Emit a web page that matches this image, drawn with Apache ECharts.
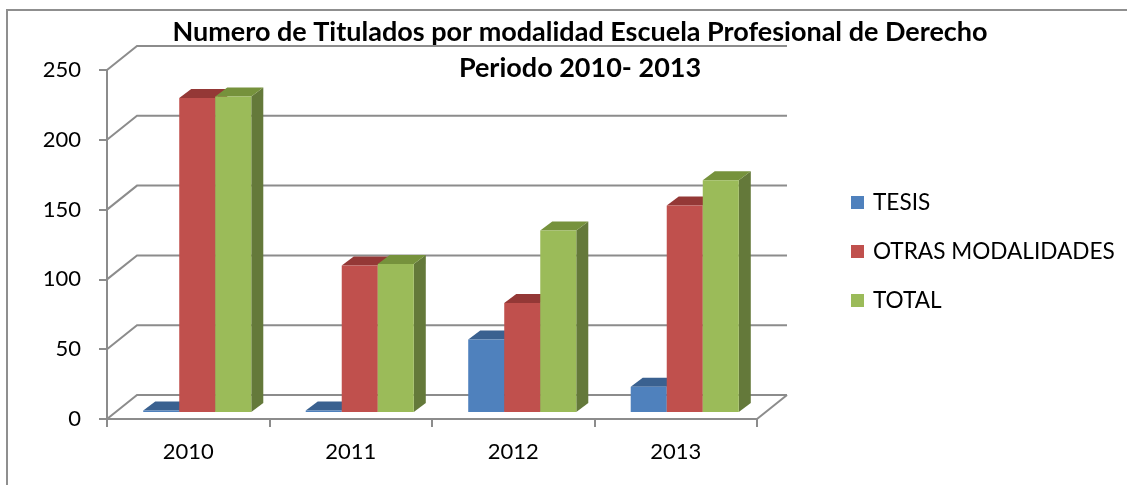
<!DOCTYPE html>
<html>
<head>
<meta charset="utf-8">
<script src="https://cdn.jsdelivr.net/npm/echarts@6/dist/echarts.min.js"></script>
<style>
html,body{margin:0;padding:0;background:#fff;}
#chart{width:1127px;height:485px;}
</style>
</head>
<body>
<div id="chart"></div>
<script>
// ---- data ----
const categories = ['2010', '2011', '2012', '2013'];
const tesis = [1, 1, 52, 18];
const otrasModalidades = [225, 105, 78, 148];
const total = [226, 106, 130, 166];
const yTicks = [0, 50, 100, 150, 200, 250];
const seriesNames = ['TESIS', 'OTRAS MODALIDADES', 'TOTAL'];
const chartTitle = 'Numero de Titulados por modalidad Escuela Profesional de Derecho\nPeriodo 2010- 2013';

// ---- styles ----
const FONT = 'Lato, "Liberation Sans", sans-serif';
const faceColors = ['#4F81BD', '#C0504D', '#9BBB59'];
const topColors = ['#3A6190', '#943836', '#76923C'];
const sideColors = ['#2F4F77', '#7A2D2B', '#64793A'];
const LINE = '#8C8C8C';
const WALL_DX = 30, WALL_DY = 24;    // back wall offset
const BAR_DX = 9, BAR_DY = 7;        // bar front plane offset
const DEPTH_DX = 12, DEPTH_DY = 9;   // bar depth
const GROUP_RATIO = 0.665;

const chart = echarts.init(document.getElementById('chart'), null, {renderer: 'canvas'});

function frameItem(params, api) {
  const cs = params.coordSys;
  const v = api.value(1);
  const y = api.coord([0, v])[1];
  const x = cs.x;
  const children = [{
    type: 'polyline',
    shape: {points: [[x, y], [x + WALL_DX, y - WALL_DY], [x + cs.width + WALL_DX, y - WALL_DY]]},
    style: {stroke: LINE, lineWidth: 2, fill: null}
  }];
  if (v === 0) {
    children.push({
      type: 'line',
      shape: {x1: x + cs.width, y1: y, x2: x + cs.width + WALL_DX, y2: y - WALL_DY},
      style: {stroke: LINE, lineWidth: 2}
    });
  }
  return {type: 'group', children: children};
}

function barRenderer(sIdx) {
  return function (params, api) {
    const idx = api.value(0);
    const val = api.value(1);
    const base = api.coord([idx, 0]);
    const topPt = api.coord([idx, val]);
    const bandW = api.size([1, 0])[0];
    const groupW = bandW * GROUP_RATIO;
    const barW = groupW / 3;
    const x0 = base[0] - groupW / 2 + sIdx * barW + BAR_DX;
    const x1 = x0 + barW;
    const yb = base[1] - BAR_DY;
    const yt = topPt[1] - BAR_DY;
    return {
      type: 'group',
      children: [
        {type: 'polygon', shape: {points: [[x1, yt], [x1 + DEPTH_DX, yt - DEPTH_DY], [x1 + DEPTH_DX, yb - DEPTH_DY], [x1, yb]]},
         style: {fill: sideColors[sIdx]}},
        {type: 'polygon', shape: {points: [[x0, yt], [x1, yt], [x1 + DEPTH_DX, yt - DEPTH_DY], [x0 + DEPTH_DX, yt - DEPTH_DY]]},
         style: {fill: topColors[sIdx]}},
        {type: 'rect', shape: {x: x0, y: yt, width: barW, height: yb - yt},
         style: {fill: faceColors[sIdx]}}
      ]
    };
  };
}

const seriesData = [tesis, otrasModalidades, total];

const option = {
  animation: false,
  backgroundColor: '#ffffff',
  title: {
    text: chartTitle,
    left: 580,
    top: 14,
    padding: 0,
    textAlign: 'center',
    textStyle: {fontFamily: FONT, fontWeight: 'bold', fontSize: 27, lineHeight: 36, color: '#000'}
  },
  legend: {
    data: seriesNames,
    orient: 'vertical',
    left: 851,
    top: 191,
    padding: 0,
    itemWidth: 13,
    itemHeight: 13,
    itemGap: 26,
    icon: 'rect',
    textStyle: {fontFamily: FONT, fontSize: 22.6, lineHeight: 22, color: '#000', padding: [0, 0, 0, 4]}
  },
  grid: {left: 107, top: 70, width: 650, height: 349, containLabel: false},
  xAxis: {
    type: 'category',
    data: categories,
    boundaryGap: true,
    axisLine: {show: true, lineStyle: {color: LINE, width: 2}},
    axisTick: {show: true, length: 8, lineStyle: {color: LINE, width: 2}},
    axisLabel: {fontFamily: FONT, fontSize: 22, color: '#000', margin: 22}
  },
  yAxis: {
    type: 'value',
    min: 0,
    max: 250,
    interval: 50,
    axisLine: {show: true, lineStyle: {color: LINE, width: 2}},
    axisTick: {show: true, length: 8, lineStyle: {color: LINE, width: 2}},
    axisLabel: {fontFamily: FONT, fontSize: 22, color: '#000', margin: 26},
    splitLine: {show: false}
  },
  graphic: [
    {type: 'polyline', shape: {points: [[7, 485], [7, 10], [1127, 10]]},
     style: {stroke: '#8F8F8F', lineWidth: 2, fill: null}, silent: true}
  ],
  series: [
    {
      type: 'custom',
      name: 'frame',
      silent: true,
      clip: false,
      z: 1,
      renderItem: frameItem,
      data: yTicks.map(v => [0, v])
    }
  ].concat(seriesNames.map((name, s) => ({
    type: 'custom',
    name: name,
    clip: false,
    z: 2 + s,
    itemStyle: {color: faceColors[s]},
    renderItem: barRenderer(s),
    data: seriesData[s].map((v, i) => [i, v])
  })))
};

chart.setOption(option);
</script>
</body>
</html>
